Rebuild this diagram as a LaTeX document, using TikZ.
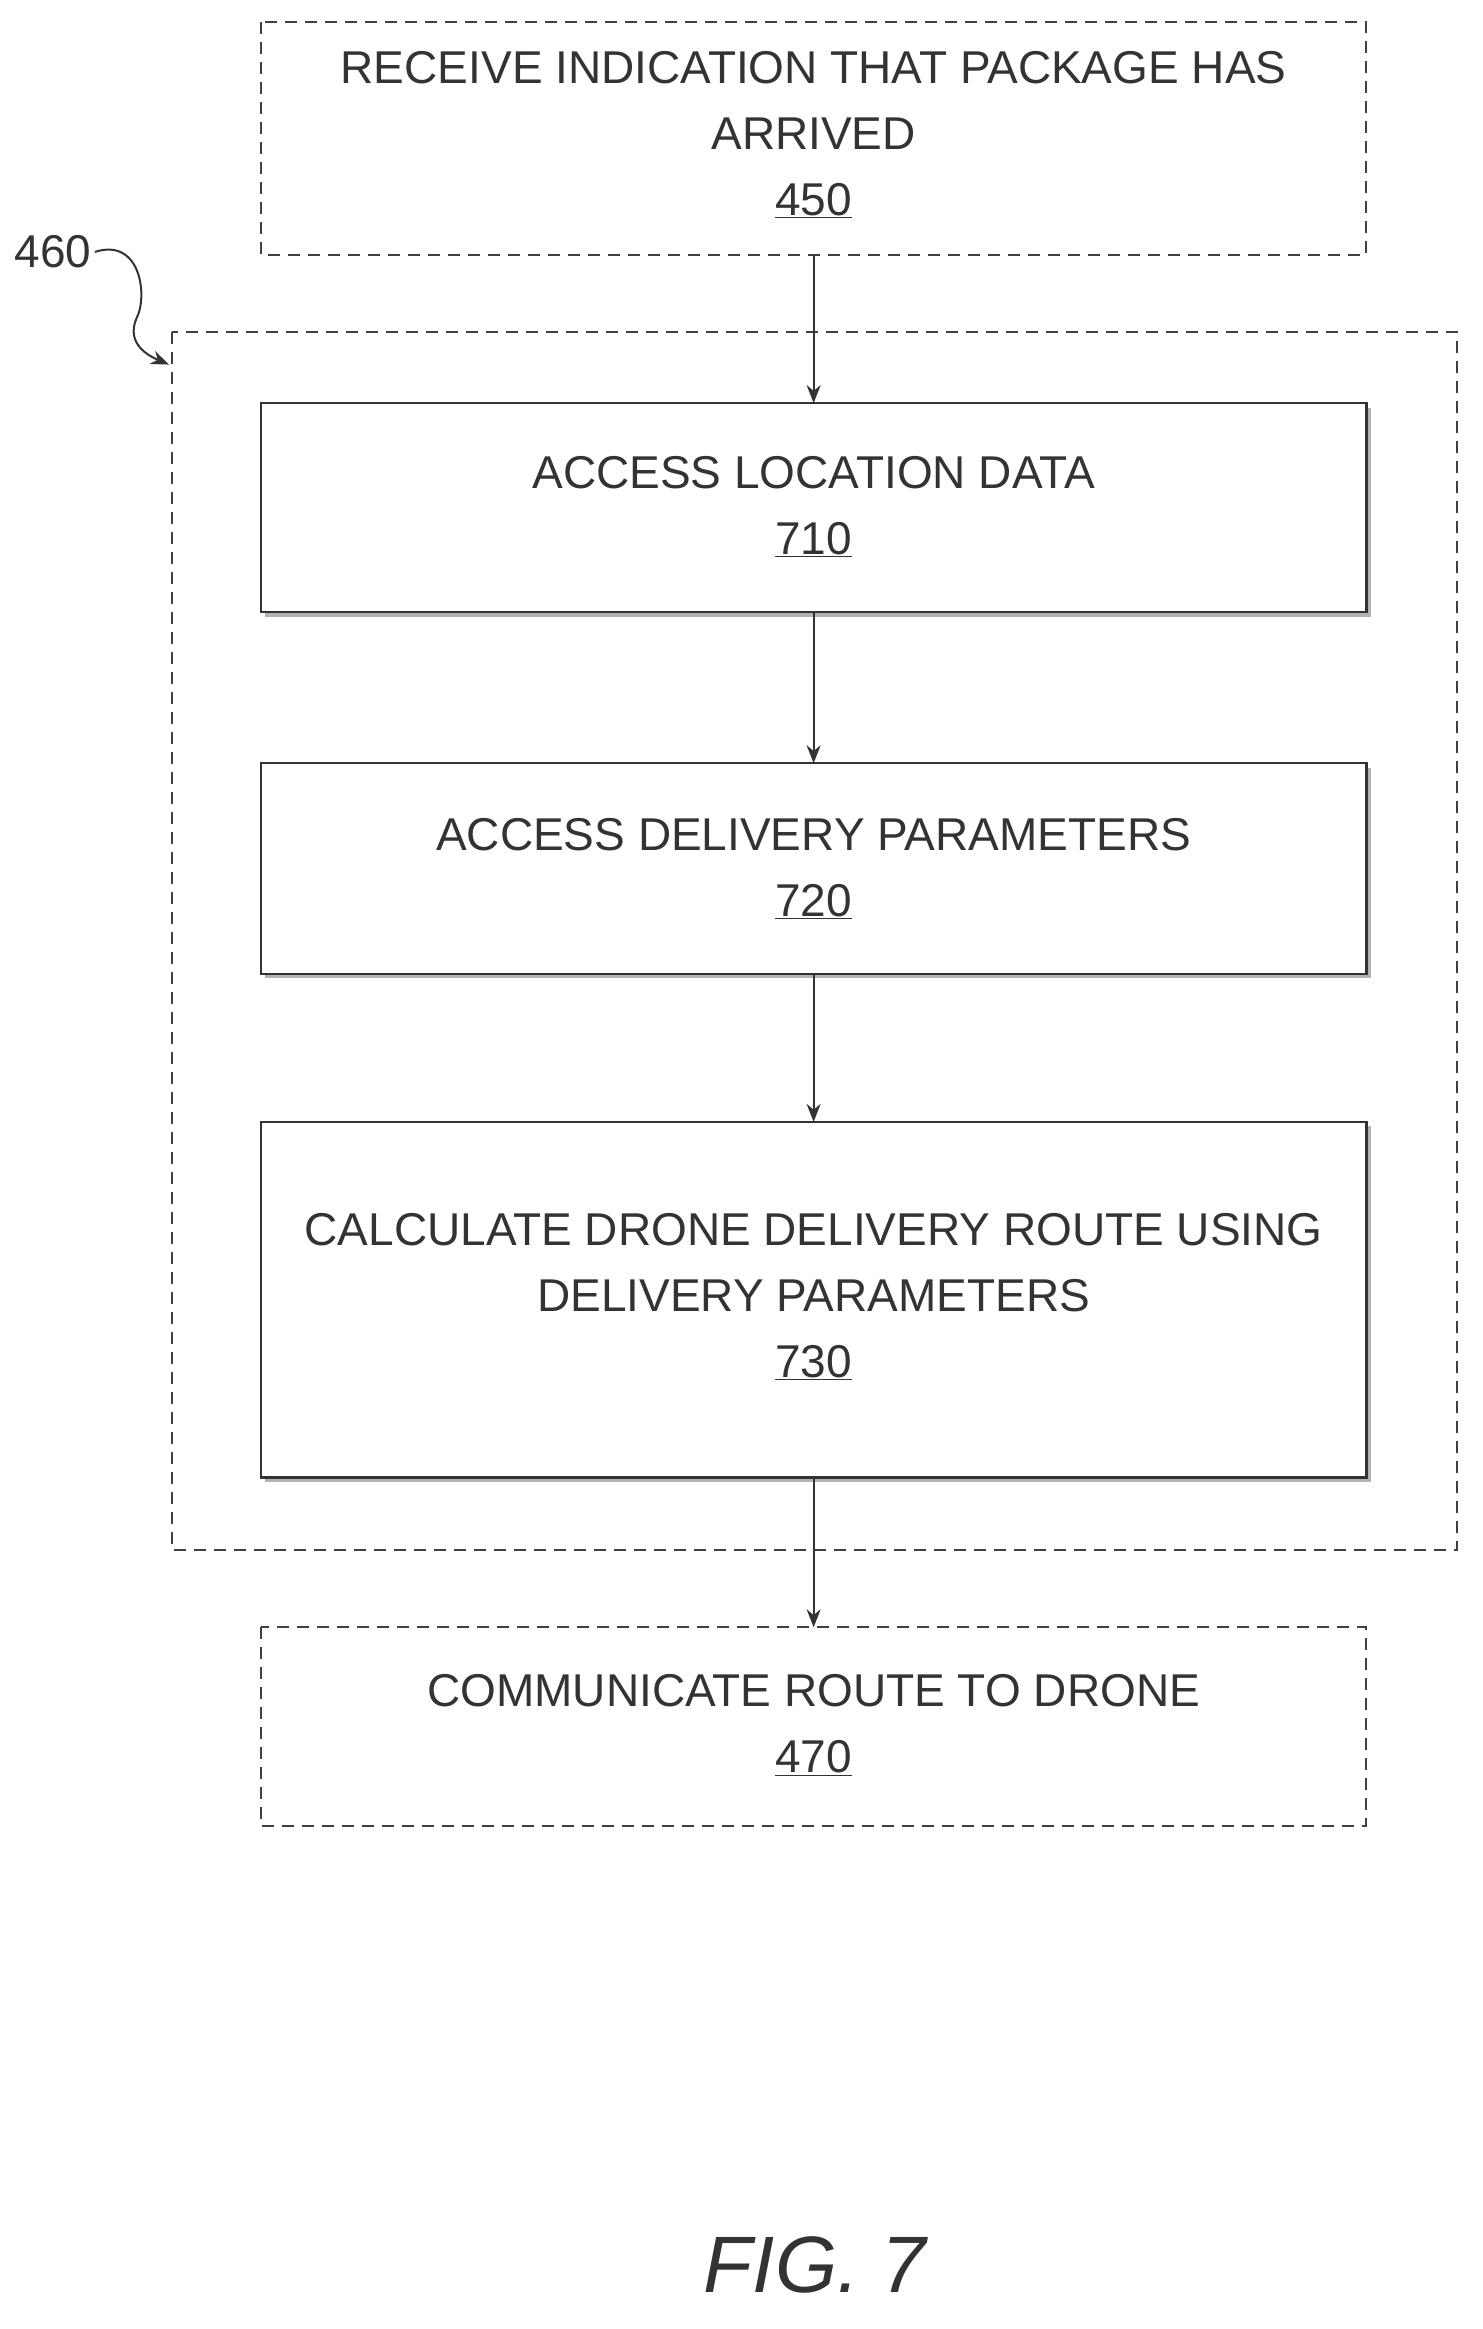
\documentclass[tikz,border=0pt]{standalone}
\usepackage{fontspec}
\setmainfont{Liberation Sans}
\usetikzlibrary{arrows.meta,decorations.pathmorphing}
\begin{document}
\begin{tikzpicture}[x=1.482pt,y=-1.482pt,
  txt/.style={font=\fontsize{46}{66}\selectfont,align=center,text=black!80},
  dbox/.style={draw=black!75,line width=2pt,dash pattern=on 12pt off 8pt},
  sbox/.style={draw=black!80,line width=2.2pt},
  arr/.style={draw=black!80,line width=2pt,-{Stealth[length=18pt,width=14pt]}}]
\useasboundingbox (0,0) rectangle (1000,1571.5);
% boxes
\draw[dbox] (176,15) rectangle (922,172);
\coordinate (b450) at (549,172);
\node[txt] (t450) at (549,91) {RECEIVE INDICATION THAT PACKAGE HAS\\ARRIVED\\\underline{450}};
\draw[dbox] (116,224) rectangle (983,1046);
\foreach \a/\b/\n in {272/413/710,515/657/720,757/997/730}{
  \fill[black!30] (179,\a+3) rectangle (925,\b+3);
  \draw[sbox,fill=white] (176,\a) rectangle (922,\b);
}
\coordinate (t710) at (549,272); \coordinate (b710) at (549,413);
\coordinate (t720) at (549,515); \coordinate (b720) at (549,657);
\coordinate (t730) at (549,757); \coordinate (b730) at (549,997);
\node[txt] (n710) at (549,342) {ACCESS LOCATION DATA\\\underline{710}};
\node[txt] (n720) at (549,586) {ACCESS DELIVERY PARAMETERS\\\underline{720}};
\node[txt] (n730) at (549,875) {CALCULATE DRONE DELIVERY ROUTE USING\\DELIVERY PARAMETERS\\\underline{730}};
\draw[dbox] (176,1098) rectangle (922,1232);
\coordinate (t470) at (549,1098);
\node[txt] (n470) at (549,1164) {COMMUNICATE ROUTE TO DRONE\\\underline{470}};
\draw[arr] (b450) -- (t710);
\draw[arr] (b710) -- (t720);
\draw[arr] (b720) -- (t730);
\draw[arr] (b730) -- (t470);
% 460 label
\node[txt,anchor=east] (l460) at (64,170) {460};
\coordinate (p460) at (114,246);
\draw[draw=black!80,line width=2pt,-{Stealth[length=18pt,width=14pt]}] (l460.east) .. controls (95,160) and (100,200) .. (92,215) .. controls (85,232) and (100,240) .. (p460);
\node[font=\fontsize{80}{90}\selectfont\itshape,text=black!80] (fig) at (550,1528) {FIG. 7};
\end{tikzpicture}
\end{document}
